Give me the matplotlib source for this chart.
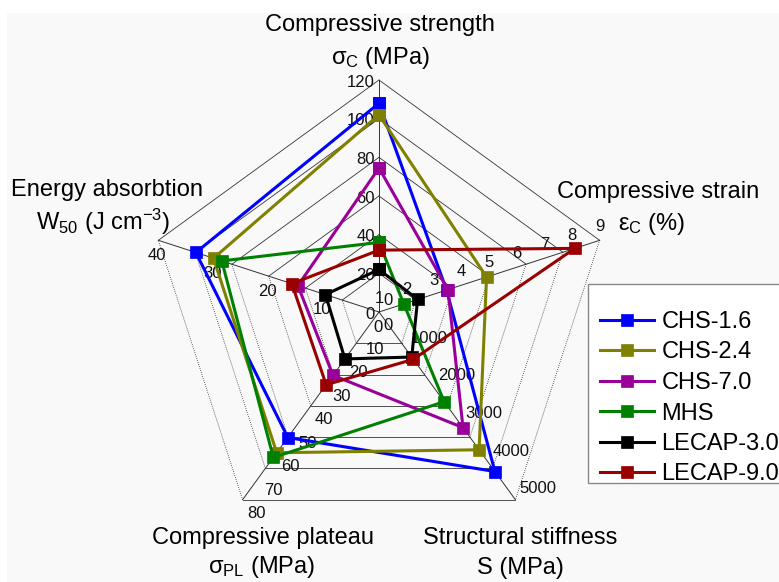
import numpy as np
import matplotlib.pyplot as plt
from matplotlib.patches import Rectangle

plt.rcParams['font.family'] = ['Liberation Sans', 'DejaVu Sans']
plt.rcParams['mathtext.default'] = 'regular'

# Samples and their colours
series = ["CHS-1.6", "CHS-2.4", "CHS-7.0", "MHS", "LECAP-3.0", "LECAP-9.0"]
colors = ["#0000ff", "#808000", "#990099", "#008000", "#000000", "#990000"]

# Properties, one value per sample
strength = [108, 102, 74.5, 36, 22, 32]            # sigma_C (MPa)
strain = [3.45, 4.9, 3.5, 1.9, 2.4, 8.1]           # eps_C (%)
stiffness = [4250, 3670, 3080, 2390, 1200, 1260]   # S (MPa)
plateau = [53.5, 60, 27, 62, 20, 31]               # sigma_PL (MPa)
energy = [33.2, 30, 14.7, 28.5, 9.7, 15.8]         # W50 (J cm-3)

# Scale of every radar axis (clockwise from the top)
axis_lo = [0, 1, 0, 0, 0]
axis_hi = [120, 9, 5000, 80, 40]
axis_ticks = [
    [0, 20, 40, 60, 80, 100, 120],
    [1, 2, 3, 4, 5, 6, 7, 8, 9],
    [0, 1000, 2000, 3000, 4000, 5000],
    [0, 10, 20, 30, 40, 50, 60, 70, 80],
    [0, 10, 20, 30, 40],
]
n_rings = 6

W, H = 779, 582
cx, cy, R = 379, 312, 232

fig = plt.figure(figsize=(W / 100, H / 100), dpi=100)
fig.patch.set_facecolor("white")
fig.add_artist(Rectangle((7 / W, 0), 1, 1 - 13 / H, transform=fig.transFigure,
                         fc="#f9f9f9", ec="none", zorder=-2))

ax = fig.add_axes([(cx - R) / W, (H - cy - R) / H, 2 * R / W, 2 * R / H],
                  projection="polar")
ax.set_theta_offset(np.pi / 2)
ax.set_theta_direction(-1)
ax.set_ylim(0, 1)
ax.set_xticks([])
ax.set_yticks([])
ax.grid(False)
ax.spines["polar"].set_visible(False)
ax.patch.set_visible(False)

angles = np.deg2rad(np.arange(5) * 72.0)

# pentagon grid: side edges look dotted, the rest solid
for k in range(1, n_rings + 1):
    r = k / n_rings
    for i in range(5):
        j = (i + 1) % 5
        ls = (0, (1, 1.5)) if i in (1, 3) else "-"
        ax.plot([angles[i], angles[j]], [r, r], color="#333333", lw=0.6,
                ls=ls, clip_on=False, zorder=1)
for a in angles:
    ax.plot([a, a], [0, 1], color="#333333", lw=0.7, clip_on=False, zorder=1)

# tick labels along each axis
offsets = [(-3, -1.5), (0, 10), (3, 8), (3, -10), (-1, -11)]
aligns = ["right", "center", "left", "left", "center"]
for i in range(5):
    for t in axis_ticks[i]:
        frac = (t - axis_lo[i]) / (axis_hi[i] - axis_lo[i])
        ax.annotate(str(t), xy=(angles[i], frac), xytext=offsets[i],
                    textcoords="offset points", ha=aligns[i], va="center",
                    fontsize=12, color="#111111", annotation_clip=False)

# the samples
values = np.array([strength, strain, stiffness, plateau, energy], dtype=float)
lo = np.array(axis_lo, dtype=float)[:, None]
hi = np.array(axis_hi, dtype=float)[:, None]
fracs = (values - lo) / (hi - lo)

handles = []
for s in range(len(series)):
    r = np.append(fracs[:, s], fracs[0, s])
    th = np.append(angles, angles[0])
    line, = ax.plot(th, r, color=colors[s], lw=2.2, marker="s", markersize=8,
                    markeredgewidth=0.5, clip_on=False, zorder=3,
                    label=series[s])
    handles.append(line)

# axis titles
def title(x, y, text):
    fig.text(x / W, 1 - y / H, text, ha="center", va="center", fontsize=17)

title(380, 25, "Compressive strength")
title(380, 58, r"σ$_C$ (MPa)")
title(658, 192, "Compressive strain")
title(652, 224, r"ε$_C$ (%)")
title(520, 538, "Structural stiffness")
title(520, 568, "S (MPa)")
title(263, 538, "Compressive plateau")
title(262, 567, r"σ$_{PL}$ (MPa)")
title(107, 190, "Energy absorbtion")
title(103, 222, r"W$_{50}$ (J cm$^{-3}$)")

# legend box
fig.add_artist(Rectangle((588 / W, 1 - 483 / H), 0.3, (483 - 284) / H,
                         transform=fig.transFigure, fc="white", ec="#888888",
                         lw=1, zorder=4))
fig.legend(handles, series, loc="upper left",
           bbox_to_anchor=(600 / W, 1 - 311 / H), frameon=False, fontsize=17,
           handlelength=2.3, handletextpad=0.3, labelspacing=0.36,
           borderpad=0, borderaxespad=0, numpoints=1)

fig.savefig("out.png", dpi=100)
